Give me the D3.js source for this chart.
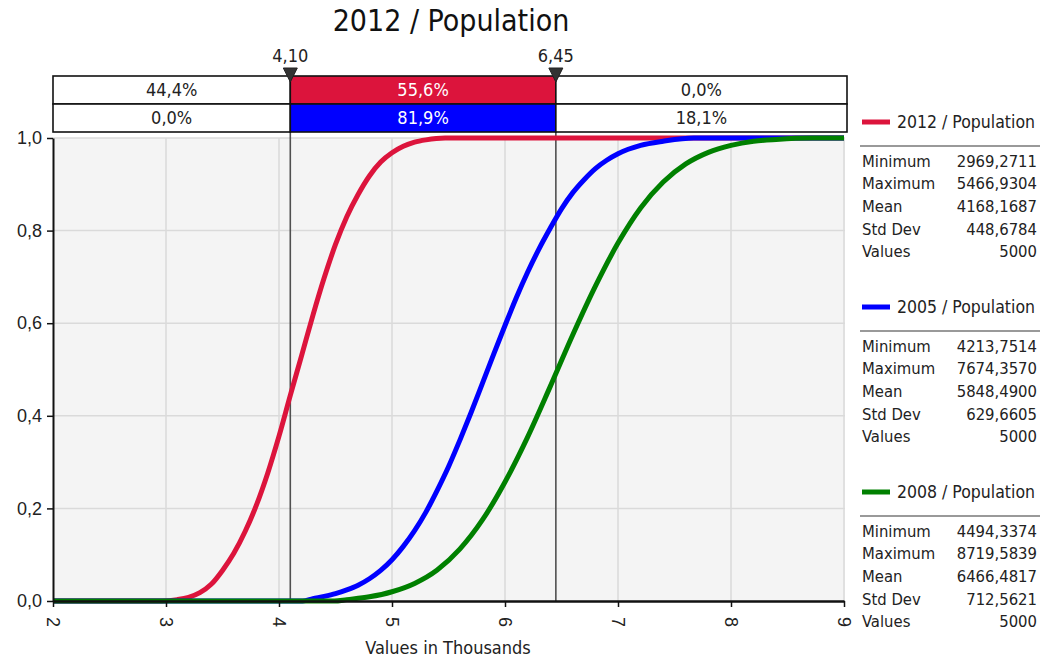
<!DOCTYPE html>
<html>
<head>
<meta charset="utf-8">
<script src="https://cdn.jsdelivr.net/npm/d3@7"></script>
<style>
    body { margin: 0; background: #fff; }
    svg { display: block; font-family: "DejaVu Sans Condensed", "DejaVu Sans", sans-serif; }
    .tick text { fill: #222; }
</style>
</head>
<body>
<div id="chart"></div>
<script>
(function() {
    'use strict';

    // Data
    var title = "2012 / Population";
    var xLabel = "Values in Thousands";
    var thresholds = [4.10, 6.45];
    var thresholdLabels = ["4,10", "6,45"];

    var seriesNames = ["2012 / Population", "2005 / Population", "2008 / Population"];
    var seriesColors = ["#dc143c", "#0000ff", "#008000"];

    // cumulative curves (x in thousands, cumulative probability)
    var x2012 = [2, 2.97, 3.1, 3.2, 3.3, 3.4, 3.5, 3.6, 3.7, 3.8, 3.9, 4.0, 4.1, 4.2, 4.3, 4.4, 4.5, 4.6, 4.7, 4.8, 4.9, 5.0, 5.1, 5.2, 5.3, 5.47, 9];
    var p2012 = [0, 0, 0.003, 0.008, 0.018, 0.036, 0.066, 0.103, 0.15, 0.207, 0.276, 0.356, 0.444, 0.53, 0.617, 0.698, 0.77, 0.83, 0.878, 0.918, 0.948, 0.968, 0.982, 0.991, 0.996, 1, 1];

    var x2005 = [2, 4.21, 4.3, 4.4, 4.5, 4.6, 4.7, 4.8, 4.9, 5.0, 5.1, 5.2, 5.3, 5.4, 5.5, 5.6, 5.7, 5.8, 5.9, 6.0, 6.1, 6.2, 6.3, 6.4, 6.5, 6.6, 6.7, 6.8, 6.9, 7.0, 7.2, 7.4, 7.67, 9];
    var p2005 = [0, 0, 0.005, 0.01, 0.016, 0.024, 0.034, 0.048, 0.066, 0.089, 0.118, 0.152, 0.192, 0.239, 0.29, 0.347, 0.407, 0.47, 0.533, 0.595, 0.655, 0.71, 0.76, 0.805, 0.847, 0.882, 0.91, 0.934, 0.952, 0.966, 0.984, 0.993, 1, 1];

    var x2008 = [2, 4.49, 4.6, 4.8, 5.0, 5.2, 5.4, 5.6, 5.8, 6.0, 6.2, 6.4, 6.6, 6.8, 7.0, 7.2, 7.4, 7.6, 7.8, 8.0, 8.2, 8.4, 8.72, 9];
    var p2008 = [0, 0, 0.003, 0.009, 0.02, 0.038, 0.067, 0.112, 0.175, 0.257, 0.354, 0.463, 0.575, 0.68, 0.773, 0.849, 0.905, 0.944, 0.969, 0.984, 0.993, 0.997, 1, 1];

    // band percentages (left, middle, right of the two thresholds)
    var band2012 = ["44,4%", "55,6%", "0,0%"];
    var band2005 = ["0,0%", "81,9%", "18,1%"];

    var statLabels = ["Minimum", "Maximum", "Mean", "Std Dev", "Values"];
    var stats2012 = ["2969,2711", "5466,9304", "4168,1687", "448,6784", "5000"];
    var stats2005 = ["4213,7514", "7674,3570", "5848,4900", "629,6605", "5000"];
    var stats2008 = ["4494,3374", "8719,5839", "6466,4817", "712,5621", "5000"];

    var xTicks = [2, 3, 4, 5, 6, 7, 8, 9];
    var yTicks = [0, 0.2, 0.4, 0.6, 0.8, 1.0];

    var curves = [
        { x: x2012, p: p2012 },
        { x: x2005, p: p2005 },
        { x: x2008, p: p2008 }
    ];
    var allStats = [stats2012, stats2005, stats2008];

    // Layout
    var width = 1040, height = 660;
    var plot = { left: 53, right: 845, top: 138, bottom: 601 };
    var band = { left: 53, right: 847, top: 76, mid: 104, bottom: 132 };

    var locale = d3.formatLocale({ decimal: ",", thousands: ".", grouping: [3], currency: ["", ""] });
    var fmtY = locale.format(".1f");

    var xScale = d3.scaleLinear().domain([2, 9]).range([plot.left, plot.right - 1]);
    var yScale = d3.scaleLinear().domain([0, 1]).range([plot.bottom, plot.top]);

    var svg = d3.select("#chart").append("svg")
        .attr("width", width)
        .attr("height", height);

    // Title
    svg.append("text")
        .attr("x", 451)
        .attr("y", 31)
        .attr("text-anchor", "middle")
        .style("font-size", "30px")
        .style("fill", "#111")
        .text(title);

    // Plot background + grid
    svg.append("rect")
        .attr("x", plot.left)
        .attr("y", plot.top)
        .attr("width", plot.right - plot.left)
        .attr("height", plot.bottom - plot.top)
        .attr("fill", "#f4f4f4");

    var grid = svg.append("g").attr("stroke", "#dadada").attr("stroke-width", 1.5);
    grid.selectAll(".gx").data(xTicks.slice(1)).enter().append("line")
        .attr("x1", function(d) { return xScale(d); })
        .attr("x2", function(d) { return xScale(d); })
        .attr("y1", plot.top)
        .attr("y2", plot.bottom);
    grid.selectAll(".gy").data(yTicks.slice(1)).enter().append("line")
        .attr("x1", plot.left)
        .attr("x2", plot.right)
        .attr("y1", function(d) { return yScale(d); })
        .attr("y2", function(d) { return yScale(d); });

    // Threshold lines
    svg.selectAll(".thr").data(thresholds).enter().append("line")
        .attr("x1", function(d) { return xScale(d); })
        .attr("x2", function(d) { return xScale(d); })
        .attr("y1", band.bottom)
        .attr("y2", plot.bottom)
        .attr("stroke", "#505050")
        .attr("stroke-width", 1.6);

    // Curves
    var line = d3.line()
        .x(function(d) { return xScale(d[0]); })
        .y(function(d) { return yScale(d[1]); })
        .curve(d3.curveMonotoneX);

    svg.append("g").selectAll("path").data(curves).enter().append("path")
        .attr("d", function(c) { return line(c.x.map(function(v, i) { return [v, c.p[i]]; })); })
        .attr("fill", "none")
        .attr("stroke", function(c, i) { return seriesColors[i]; })
        .attr("stroke-width", 5);

    // Axes
    var yAxis = d3.axisLeft(yScale).tickValues(yTicks).tickFormat(fmtY).tickSize(6).tickSizeOuter(0);
    var gy = svg.append("g").attr("transform", "translate(" + plot.left + ",0)").call(yAxis);
    gy.select(".domain").attr("stroke", "#111").attr("stroke-width", 2);
    gy.selectAll(".tick line").attr("stroke", "#111").attr("stroke-width", 1.5);
    gy.selectAll(".tick text").style("font-size", "18px").attr("x", -11);

    var xAxis = d3.axisBottom(xScale).tickValues(xTicks).tickFormat(d3.format("d")).tickSize(6).tickSizeOuter(0);
    var gx = svg.append("g").attr("transform", "translate(0," + plot.bottom + ")").call(xAxis);
    gx.select(".domain").attr("stroke", "#111").attr("stroke-width", 2.5);
    gx.selectAll(".tick line").attr("stroke", "#111").attr("stroke-width", 1.5);
    gx.selectAll(".tick text")
        .style("font-size", "18px")
        .attr("transform", "rotate(90)")
        .attr("y", 0)
        .attr("x", 16)
        .attr("dy", "0.35em")
        .attr("text-anchor", "start");

    svg.append("text")
        .attr("x", 448)
        .attr("y", 654)
        .attr("text-anchor", "middle")
        .style("font-size", "18px")
        .style("fill", "#222")
        .text(xLabel);

    // Band of percentages
    var edges = [band.left, xScale(thresholds[0]), xScale(thresholds[1]), band.right];
    var bandRows = [
        { top: band.top, bottom: band.mid, values: band2012, color: seriesColors[0] },
        { top: band.mid, bottom: band.bottom, values: band2005, color: seriesColors[1] }
    ];
    var gBand = svg.append("g");
    bandRows.forEach(function(row) {
        row.values.forEach(function(v, i) {
            var mid = i === 1;
            gBand.append("rect")
                .attr("x", edges[i])
                .attr("y", row.top)
                .attr("width", edges[i + 1] - edges[i])
                .attr("height", row.bottom - row.top)
                .attr("fill", mid ? row.color : "#fff")
                .attr("stroke", "#111")
                .attr("stroke-width", 1.6);
            gBand.append("text")
                .attr("x", (edges[i] + edges[i + 1]) / 2)
                .attr("y", (row.top + row.bottom) / 2)
                .attr("dy", "0.36em")
                .attr("text-anchor", "middle")
                .style("font-size", "18px")
                .style("fill", mid ? "#fff" : "#222")
                .text(v);
        });
    });

    // Threshold markers
    var gMark = svg.append("g");
    thresholds.forEach(function(t, i) {
        var x = xScale(t);
        gMark.append("path")
            .attr("d", "M" + (x - 7) + "," + 68 + "L" + (x + 7) + "," + 68 + "L" + x + "," + 82 + "Z")
            .attr("fill", "#333")
            .attr("stroke", "#222");
        gMark.append("text")
            .attr("x", x)
            .attr("y", 62)
            .attr("text-anchor", "middle")
            .style("font-size", "18px")
            .style("fill", "#222")
            .text(thresholdLabels[i]);
    });

    // Legend with statistics
    var legendTops = [122, 307, 492];
    var gLeg = svg.append("g");
    seriesNames.forEach(function(name, i) {
        var y0 = legendTops[i];
        gLeg.append("line")
            .attr("x1", 862).attr("x2", 890)
            .attr("y1", y0).attr("y2", y0)
            .attr("stroke", seriesColors[i])
            .attr("stroke-width", 5);
        gLeg.append("text")
            .attr("x", 897)
            .attr("y", y0)
            .attr("dy", "0.35em")
            .style("font-size", "17.5px")
            .style("fill", "#222")
            .text(name);
        gLeg.append("line")
            .attr("x1", 860).attr("x2", 1040)
            .attr("y1", y0 + 24).attr("y2", y0 + 24)
            .attr("stroke", "#999")
            .attr("stroke-width", 2);
        statLabels.forEach(function(lab, j) {
            var y = y0 + 39 + j * 22.6;
            gLeg.append("text")
                .attr("x", 862)
                .attr("y", y)
                .attr("dy", "0.35em")
                .style("font-size", "16.5px")
                .style("fill", "#222")
                .text(lab);
            gLeg.append("text")
                .attr("x", 1037)
                .attr("y", y)
                .attr("dy", "0.35em")
                .attr("text-anchor", "end")
                .style("font-size", "16.5px")
                .style("fill", "#222")
                .text(allStats[i][j]);
        });
    });
})();
</script>
</body>
</html>
